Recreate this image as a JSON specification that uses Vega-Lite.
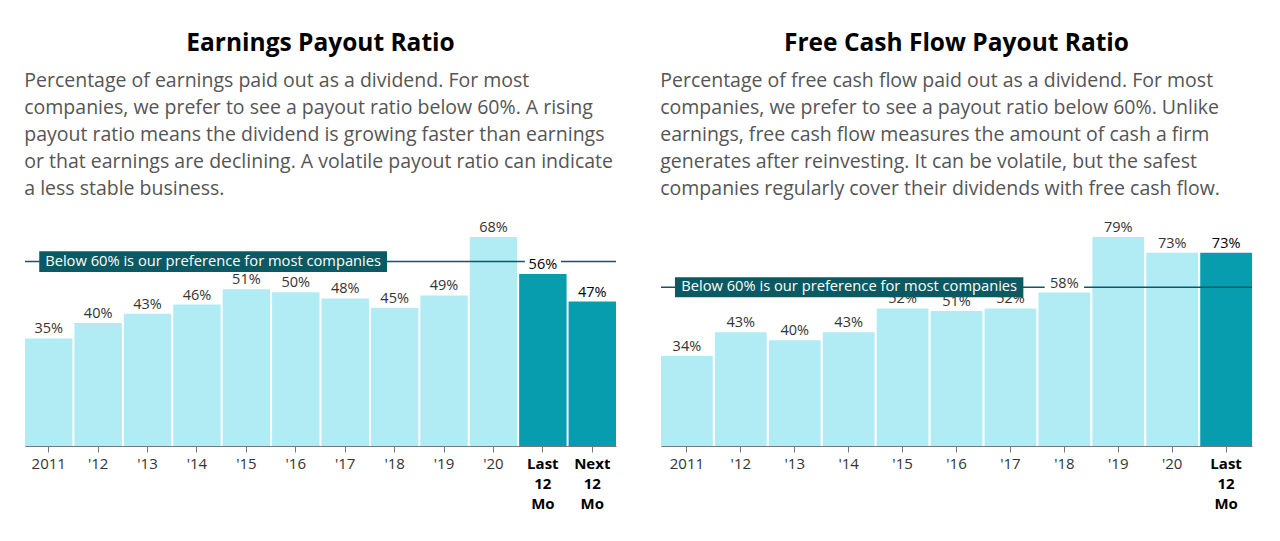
{
  "$schema": "https://vega.github.io/schema/vega-lite/v6.json",
  "background": "white",
  "padding": {"left": 24, "right": 28, "top": 31, "bottom": 0},
  "spacing": 43,
  "config": {
    "font": "Open Sans",
    "view": {"stroke": null},
    "axis": {"grid": false}
  },
  "hconcat": [
    {
      "title": {"text": "Earnings Payout Ratio", "anchor": "middle", "fontSize": 24.5, "fontWeight": "bold", "color": "#000000", "offset": 14},
      "vconcat": [
        {
          "width": 591,
          "height": 209,
          "title": {
            "text": [
              "Percentage of earnings paid out as a dividend. For most",
              "companies, we prefer to see a payout ratio below 60%. A rising",
              "payout ratio means the dividend is growing faster than earnings",
              "or that earnings are declining. A volatile payout ratio can indicate",
              "a less stable business."
            ],
            "anchor": "start",
            "fontSize": 19.5,
            "fontWeight": "normal",
            "color": "#555555",
            "lineHeight": 27,
            "offset": 19
          },
          "data": {
            "values": [
              {"period": "2011", "value": 35, "hl": "no"},
              {"period": "'12", "value": 40, "hl": "no"},
              {"period": "'13", "value": 43, "hl": "no"},
              {"period": "'14", "value": 46, "hl": "no"},
              {"period": "'15", "value": 51, "hl": "no"},
              {"period": "'16", "value": 50, "hl": "no"},
              {"period": "'17", "value": 48, "hl": "no"},
              {"period": "'18", "value": 45, "hl": "no"},
              {"period": "'19", "value": 49, "hl": "no"},
              {"period": "'20", "value": 68, "hl": "no"},
              {"period": "Last 12 Mo", "value": 56, "hl": "yes"},
              {"period": "Next 12 Mo", "value": 47, "hl": "yes"}
            ]
          },
          "layer": [
            {
              "mark": {"type": "bar"},
              "encoding": {
                "x": {
                  "field": "period", "type": "nominal",
                  "scale": {"domain": ["2011", "'12", "'13", "'14", "'15", "'16", "'17", "'18", "'19", "'20", "Last 12 Mo", "Next 12 Mo"], "paddingInner": 0.04, "paddingOuter": 0},
                  "axis": {
                    "title": null, "labelAngle": 0, "labelFontSize": 15,
                    "labelColor": {"condition": {"test": "indexof(datum.value, 'Mo') >= 0", "value": "#000000"}, "value": "#333333"},
                    "labelExpr": "split(datum.label, ' ')", "labelLineHeight": 20,
                    "labelFontWeight": {"condition": {"test": "indexof(datum.value, 'Mo') >= 0", "value": "bold"}, "value": "normal"},
                    "domainColor": "#777777", "tickColor": "#777777", "tickSize": 6, "labelPadding": 4
                  }
                },
                "y": {"field": "value", "type": "quantitative", "scale": {"domain": [0, 68], "nice": false}, "axis": null},
                "color": {"field": "hl", "type": "nominal", "scale": {"domain": ["no", "yes"], "range": ["#b1ebf3", "#079daf"]}, "legend": null}
              }
            },
            {
              "data": {"values": [{"ref": 60}]},
              "mark": {"type": "rule", "color": "#0b5a63", "strokeWidth": 1.5},
              "encoding": {"y": {"field": "ref", "type": "quantitative"}}
            },
            {
              "mark": {"type": "rect", "color": "white", "height": 18, "yOffset": -10},
              "encoding": {
                "x": {"field": "period", "type": "nominal", "bandPosition": 0.12},
                "x2": {"field": "period", "bandPosition": 0.88},
                "y": {"field": "value", "type": "quantitative"}
              }
            },
            {
              "transform": [{"calculate": "datum.value + '%'", "as": "lbl"}],
              "mark": {"type": "text", "baseline": "bottom", "dy": -2, "fontSize": 14.5},
              "encoding": {
                "x": {"field": "period", "type": "nominal"},
                "y": {"field": "value", "type": "quantitative"},
                "text": {"field": "lbl", "type": "nominal"},
                "color": {"condition": {"test": "datum.hl == 'yes'", "value": "#000000"}, "value": "#333333"},
                "fontWeight": {"condition": {"test": "datum.hl == 'yes'", "value": "bold"}, "value": "normal"}
              }
            },
            {
              "data": {"values": [{"from": "2011", "to": "'18", "lo": 56.6, "hi": 63.4}]},
              "mark": {"type": "rect", "color": "#0b5a63"},
              "encoding": {
                "x": {"field": "from", "type": "nominal", "bandPosition": 0.3},
                "x2": {"field": "to", "bandPosition": 0.34},
                "y": {"field": "lo", "type": "quantitative"},
                "y2": {"field": "hi"}
              }
            },
            {
              "data": {"values": [{"at": "'14", "ref": 60, "note": "Below 60% is our preference for most companies"}]},
              "mark": {"type": "text", "color": "white", "fontSize": 14.7, "align": "center", "baseline": "middle"},
              "encoding": {
                "x": {"field": "at", "type": "nominal", "bandPosition": 0.84},
                "y": {"field": "ref", "type": "quantitative"},
                "text": {"field": "note", "type": "nominal"}
              }
            }
          ]
        }
      ]
    },
    {
      "title": {"text": "Free Cash Flow Payout Ratio", "anchor": "middle", "fontSize": 24.5, "fontWeight": "bold", "color": "#000000", "offset": 14},
      "vconcat": [
        {
          "width": 591,
          "height": 209,
          "title": {
            "text": [
              "Percentage of free cash flow paid out as a dividend. For most",
              "companies, we prefer to see a payout ratio below 60%. Unlike",
              "earnings, free cash flow measures the amount of cash a firm",
              "generates after reinvesting. It can be volatile, but the safest",
              "companies regularly cover their dividends with free cash flow."
            ],
            "anchor": "start",
            "fontSize": 19.5,
            "fontWeight": "normal",
            "color": "#555555",
            "lineHeight": 27,
            "offset": 19
          },
          "data": {
            "values": [
              {"period": "2011", "value": 34, "hl": "no"},
              {"period": "'12", "value": 43, "hl": "no"},
              {"period": "'13", "value": 40, "hl": "no"},
              {"period": "'14", "value": 43, "hl": "no"},
              {"period": "'15", "value": 52, "hl": "no"},
              {"period": "'16", "value": 51, "hl": "no"},
              {"period": "'17", "value": 52, "hl": "no"},
              {"period": "'18", "value": 58, "hl": "no"},
              {"period": "'19", "value": 79, "hl": "no"},
              {"period": "'20", "value": 73, "hl": "no"},
              {"period": "Last 12 Mo", "value": 73, "hl": "yes"}
            ]
          },
          "layer": [
            {
              "mark": {"type": "bar"},
              "encoding": {
                "x": {
                  "field": "period", "type": "nominal",
                  "scale": {"domain": ["2011", "'12", "'13", "'14", "'15", "'16", "'17", "'18", "'19", "'20", "Last 12 Mo"], "paddingInner": 0.04, "paddingOuter": 0},
                  "axis": {
                    "title": null, "labelAngle": 0, "labelFontSize": 15,
                    "labelColor": {"condition": {"test": "indexof(datum.value, 'Mo') >= 0", "value": "#000000"}, "value": "#333333"},
                    "labelExpr": "split(datum.label, ' ')", "labelLineHeight": 20,
                    "labelFontWeight": {"condition": {"test": "indexof(datum.value, 'Mo') >= 0", "value": "bold"}, "value": "normal"},
                    "domainColor": "#777777", "tickColor": "#777777", "tickSize": 6, "labelPadding": 4
                  }
                },
                "y": {"field": "value", "type": "quantitative", "scale": {"domain": [0, 79], "nice": false}, "axis": null},
                "color": {"field": "hl", "type": "nominal", "scale": {"domain": ["no", "yes"], "range": ["#b1ebf3", "#079daf"]}, "legend": null}
              }
            },
            {
              "data": {"values": [{"ref": 60}]},
              "mark": {"type": "rule", "color": "#0b5a63", "strokeWidth": 1.5},
              "encoding": {"y": {"field": "ref", "type": "quantitative"}}
            },
            {
              "mark": {"type": "rect", "color": "white", "height": 18, "yOffset": -10},
              "encoding": {
                "x": {"field": "period", "type": "nominal", "bandPosition": 0.12},
                "x2": {"field": "period", "bandPosition": 0.88},
                "y": {"field": "value", "type": "quantitative"}
              }
            },
            {
              "transform": [{"calculate": "datum.value + '%'", "as": "lbl"}],
              "mark": {"type": "text", "baseline": "bottom", "dy": -2, "fontSize": 14.5},
              "encoding": {
                "x": {"field": "period", "type": "nominal"},
                "y": {"field": "value", "type": "quantitative"},
                "text": {"field": "lbl", "type": "nominal"},
                "color": {"condition": {"test": "datum.hl == 'yes'", "value": "#000000"}, "value": "#333333"},
                "fontWeight": {"condition": {"test": "datum.hl == 'yes'", "value": "bold"}, "value": "normal"}
              }
            },
            {
              "data": {"values": [{"from": "2011", "to": "'17", "lo": 56.2, "hi": 63.8}]},
              "mark": {"type": "rect", "color": "#0b5a63"},
              "encoding": {
                "x": {"field": "from", "type": "nominal", "bandPosition": 0.27},
                "x2": {"field": "to", "bandPosition": 0.75},
                "y": {"field": "lo", "type": "quantitative"},
                "y2": {"field": "hi"}
              }
            },
            {
              "data": {"values": [{"at": "'14", "ref": 60, "note": "Below 60% is our preference for most companies"}]},
              "mark": {"type": "text", "color": "white", "fontSize": 14.7, "align": "center", "baseline": "middle"},
              "encoding": {
                "x": {"field": "at", "type": "nominal", "bandPosition": 0.51},
                "y": {"field": "ref", "type": "quantitative"},
                "text": {"field": "note", "type": "nominal"}
              }
            }
          ]
        }
      ]
    }
  ]
}
